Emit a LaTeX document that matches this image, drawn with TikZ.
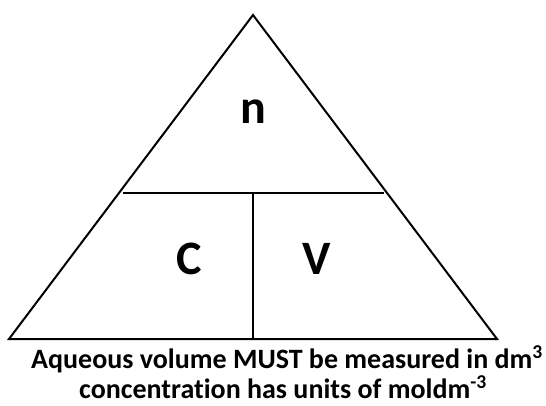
\documentclass[tikz,border=0pt]{standalone}
\usepackage{fontspec}
\setmainfont{Carlito}[Ligatures=CommonOff]
\begin{document}
\begin{tikzpicture}[x=1pt,y=-1pt,
  edge/.style={line width=2pt,line join=miter},
  letter/.style={font=\fontsize{48}{48}\selectfont\bfseries,inner sep=0pt},
  caption/.style={font=\fontsize{28}{30}\selectfont\bfseries,inner sep=0pt,anchor=base}]
\useasboundingbox (0,0) rectangle (546,406);
\coordinate (A) at (253,15);
\coordinate (L) at (9,339);
\coordinate (R) at (497,339);
\coordinate (bl) at (123,193);
\coordinate (br) at (384,193);
\coordinate (bm) at (253,193);
\coordinate (bb) at (253,339);
\draw[edge] (L) -- (A) -- (R) -- cycle;
\draw[edge] (bl) -- (br);
\draw[edge] (bm) -- (bb);
\node[letter] (n) at (253,112) {n};
\node[letter] (c) at (189,259) {C};
\node[letter] (v) at (317,259) {V};
\node[caption] (t1) at (287,368) {Aqueous volume MUST be measured in dm\textsuperscript{3}};
\node[caption] (t2) at (283,398) {concentration has units of moldm\textsuperscript{-3}};
\end{tikzpicture}
\end{document}
